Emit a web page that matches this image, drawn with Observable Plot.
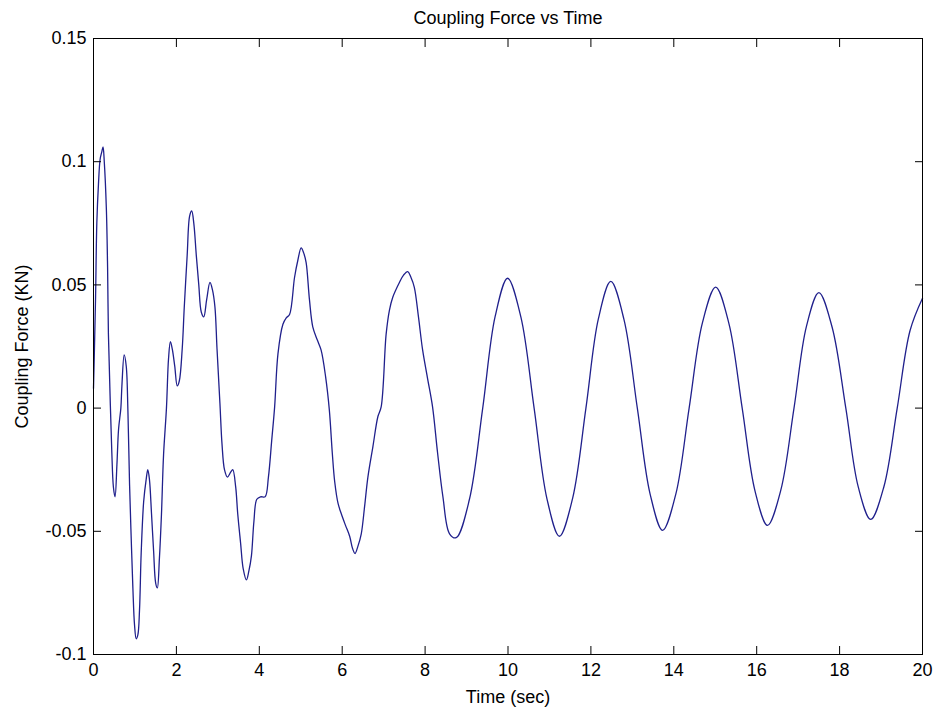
<!DOCTYPE html>
<html>
<head>
<meta charset="utf-8">
<script src="https://cdn.jsdelivr.net/npm/d3@7"></script>
<script src="https://cdn.jsdelivr.net/npm/@observablehq/plot@0.6"></script>
<style>
  html, body { margin: 0; padding: 0; background: #fff; }
  #chart svg { display: block; }
</style>
</head>
<body>
<div id="chart"></div>
<script>
const title = "Coupling Force vs Time";
const xLabel = "Time (sec)";
const yLabel = "Coupling Force (KN)";
const xTicks = [0, 2, 4, 6, 8, 10, 12, 14, 16, 18, 20];
const yTicks = [-0.1, -0.05, 0, 0.05, 0.1, 0.15];

const time = [
  0, 0.02, 0.05, 0.08, 0.12, 0.16, 0.20, 0.23, 0.26, 0.31, 0.34, 0.36, 0.40, 0.44, 0.48, 0.52,
  0.565, 0.605, 0.66, 0.685, 0.74, 0.79, 0.83, 0.87, 0.91, 0.95, 0.99, 1.03, 1.07, 1.11, 1.15,
  1.21, 1.27, 1.31, 1.35, 1.40, 1.45, 1.50, 1.54, 1.59, 1.64, 1.69, 1.76, 1.81, 1.855, 1.90,
  1.96, 2.02, 2.07, 2.14, 2.19, 2.26, 2.32, 2.37, 2.42, 2.48, 2.54, 2.60, 2.66, 2.73, 2.81,
  2.87, 2.93, 2.98, 3.05, 3.10, 3.16, 3.23, 3.31, 3.36, 3.43, 3.48, 3.55, 3.61, 3.69, 3.75,
  3.81, 3.87, 3.94, 4.03, 4.14, 4.22, 4.30, 4.37, 4.45, 4.57, 4.65, 4.73, 4.85, 4.93, 5.01,
  5.07, 5.13, 5.21, 5.29, 5.40, 5.49, 5.60, 5.69, 5.76, 5.82, 5.90, 5.98, 6.08, 6.18, 6.25,
  6.31, 6.38, 6.46, 6.54, 6.62, 6.74, 6.86, 6.94, 7.06, 7.14, 7.22, 7.38, 7.48, 7.58, 7.66,
  7.74, 7.84, 7.94, 8.06, 8.18, 8.30, 8.43, 8.59, 8.75,
  9.07, 9.39, 9.69, 9.99, 10.31, 10.63, 10.94, 11.24, 11.56, 11.88, 12.18, 12.48, 12.80,
  13.12, 13.43, 13.73, 14.05, 14.37, 14.69, 15.01, 15.33, 15.65, 15.96, 16.26, 16.58,
  16.90, 17.20, 17.50, 17.82, 18.15, 18.45, 18.75, 19.07, 19.39, 19.70, 20.00
];
const force = [
  0.008, 0.022, 0.045, 0.075, 0.091, 0.101, 0.104, 0.106, 0.100, 0.081, 0.057, 0.030, 0.005, -0.017, -0.032, -0.036,
  -0.023, -0.0085, 0.0, 0.009, 0.0216, 0.017, -0.001, -0.031, -0.053, -0.073, -0.088, -0.0936, -0.092, -0.082, -0.059,
  -0.038, -0.029, -0.025, -0.029, -0.043, -0.058, -0.071, -0.073, -0.061, -0.043, -0.019, 0.0, 0.020, 0.027, 0.024,
  0.017, 0.009, 0.011, 0.024, 0.041, 0.062, 0.078, 0.080, 0.075, 0.062, 0.050, 0.039, 0.037, 0.044, 0.051,
  0.048, 0.041, 0.024, 0.002, -0.0145, -0.025, -0.028, -0.026, -0.025, -0.032, -0.043, -0.055, -0.065, -0.0697, -0.066,
  -0.060, -0.046, -0.037, -0.036, -0.036, -0.028, -0.013, 0.0005, 0.022, 0.034, 0.0366, 0.038, 0.053, 0.060, 0.065,
  0.063, 0.059, 0.044, 0.033, 0.0276, 0.0236, 0.0127, -0.0008, -0.018, -0.030, -0.0387, -0.043, -0.0476, -0.052, -0.057,
  -0.059, -0.056, -0.051, -0.040, -0.028, -0.0157, -0.0035, 0.0005, 0.030, 0.0398, 0.045, 0.051, 0.054, 0.0554, 0.053,
  0.049, 0.037, 0.0236, 0.012, 0.0005, -0.018, -0.036, -0.051, -0.0526,
  -0.037, 0.0, 0.0372, 0.0527, 0.037, 0.0, -0.0368, -0.052, -0.0365, 0.0, 0.0362, 0.0514, 0.0358,
  0.0, -0.035, -0.0496, -0.0348, 0.0, 0.0346, 0.0491, 0.0343, 0.0, -0.0337, -0.0476, -0.0334,
  0.0, 0.0332, 0.0469, 0.0328, 0.0, -0.032, -0.0452, -0.0318, 0.0, 0.0315, 0.0446
];

const data = time.map((t, i) => ({t, f: force[i]}));
const fmt = d => String(d);
const font = "'Liberation Sans', Arial, Helvetica, sans-serif";

const chart = Plot.plot({
  width: 939,
  height: 715,
  marginLeft: 93,
  marginRight: 17,
  marginTop: 38,
  marginBottom: 61,
  style: {fontFamily: font, fontSize: "18px", background: "#fff", color: "#000"},
  x: {domain: [0, 20]},
  y: {domain: [-0.1, 0.15]},
  marks: [
    Plot.line(data, {x: "t", y: "f", stroke: "#20208c", strokeWidth: 1.3, curve: "catmull-rom"}),
    Plot.frame({stroke: "#000", strokeWidth: 1}),
    Plot.axisX({anchor: "bottom", ticks: xTicks, tickSize: -8, tickFormat: () => "", label: null}),
    Plot.axisX({anchor: "top", ticks: xTicks, tickSize: -8, tickFormat: () => "", label: null}),
    Plot.axisY({anchor: "left", ticks: yTicks, tickSize: -8, tickFormat: () => "", label: null}),
    Plot.axisY({anchor: "right", ticks: yTicks, tickSize: -8, tickFormat: () => "", label: null}),
    Plot.axisX({anchor: "bottom", ticks: xTicks, tickSize: 0, tickPadding: 9, tickFormat: fmt, fontSize: 18,
      label: xLabel, labelAnchor: "center", labelOffset: 48, labelArrow: "none"}),
    Plot.axisY({anchor: "left", ticks: yTicks, tickSize: 0, tickPadding: 7, tickFormat: fmt, fontSize: 18,
      label: yLabel, labelAnchor: "center", labelOffset: 78, labelArrow: "none"}),
    Plot.text([title], {text: d => d, frameAnchor: "top", dy: -15, lineAnchor: "bottom", fontSize: 18})
  ]
});
document.getElementById("chart").appendChild(chart);
</script>
</body>
</html>
